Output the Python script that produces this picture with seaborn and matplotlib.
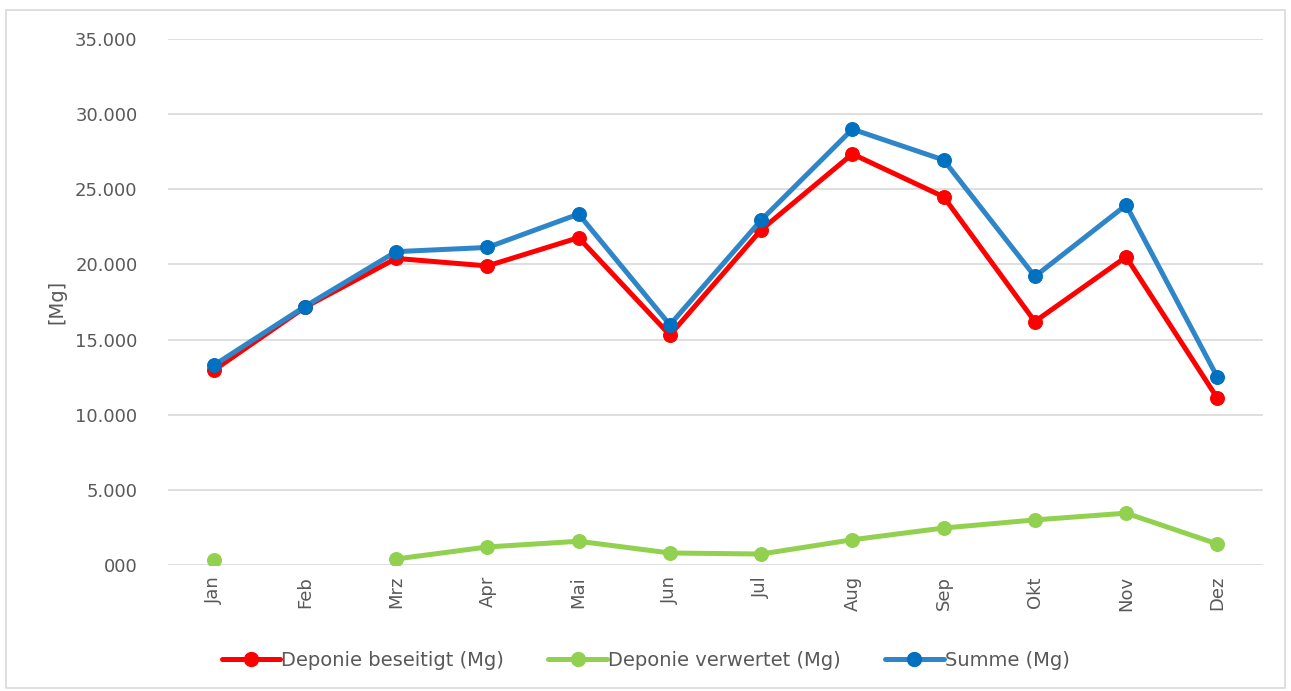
import matplotlib as mpl
import matplotlib.pyplot as plt
import numpy as np
import pandas as pd
import seaborn as sns
from matplotlib.lines import Line2D
from matplotlib.patches import Rectangle
from matplotlib.ticker import FuncFormatter

mpl.use('Agg')

# data (Mg)
months = ['Jan', 'Feb', 'Mrz', 'Apr', 'Mai', 'Jun', 'Jul', 'Aug', 'Sep', 'Okt', 'Nov', 'Dez']
beseitigt = [12950, 17150, 20400, 19900, 21780, 15300, 22300, 27350, 24500, 16200, 20500, 11100]
verwertet = [330, np.nan, 400, 1200, 1580, 800, 730, 1680, 2460, 3000, 3450, 1400]
summe = [13280, 17200, 20850, 21130, 23350, 15980, 22950, 29000, 26950, 19200, 23950, 12500]

labels = ['Deponie beseitigt (Mg)', 'Deponie verwertet (Mg)', 'Summe (Mg)']
colors = ['#FF0000', '#92D050', '#2E86C8']
marker_colors = ['#FF0000', '#92D050', '#0070C0']

sns.set_theme(style='white', rc={'axes.edgecolor': 'white'})
plt.rcParams['font.family'] = ['DejaVu Sans']
text_color = '#595959'

fig = plt.figure(figsize=(12.91, 6.91), dpi=100)
ax = fig.add_axes([168 / 1291, 1 - 565 / 691, 1095 / 1291, 526 / 691])

# green series has a gap in Feb -> split into segments so the line breaks
green = pd.DataFrame({'x': np.arange(len(months)), 'y': verwertet})
green['seg'] = green['y'].isna().cumsum()
green = green.dropna()

for series, col, mcol, z in [(beseitigt, colors[0], marker_colors[0], 3),
                             (summe, colors[2], marker_colors[2], 4)]:
    sns.lineplot(x=np.arange(len(months)), y=series, ax=ax, color=col, linewidth=3.6,
                 marker='o', markersize=10, markerfacecolor=mcol, markeredgecolor=mcol,
                 zorder=z)
sns.lineplot(data=green, x='x', y='y', units='seg', estimator=None, ax=ax,
             color=colors[1], linewidth=3.6, marker='o', markersize=10,
             markerfacecolor=marker_colors[1], markeredgecolor=marker_colors[1], zorder=2)

ax.set_xlim(-0.5, len(months) - 0.5)
ax.set_ylim(0, 35000)
ax.set_yticks(np.arange(0, 35001, 5000))
ax.yaxis.set_major_formatter(FuncFormatter(
    lambda v, p: '000' if v == 0 else '{:,.0f}'.format(v).replace(',', '.')))
ax.set_xticks(np.arange(len(months)))
ax.set_xticklabels(months, rotation=90)
ax.tick_params(axis='both', colors=text_color, labelsize=13, length=0)
ax.tick_params(axis='y', pad=22)
ax.tick_params(axis='x', pad=8)
ax.grid(axis='y', color='#D9D9D9', linewidth=1.2)
ax.set_axisbelow(True)
for s in ax.spines.values():
    s.set_visible(False)
ax.set_xlabel('')
ax.set_ylabel('[Mg]', color=text_color, fontsize=14, labelpad=6)

handles = [Line2D([], [], color=c, linewidth=3.6, marker='o', markersize=10,
                  markerfacecolor=m, markeredgecolor=m)
           for c, m in zip(colors, marker_colors)]
fig.legend(handles, labels, loc='center', bbox_to_anchor=(0.5, 1 - 660 / 691), ncol=3,
           frameon=False, fontsize=14, labelcolor=text_color, handlelength=3.0,
           handletextpad=0.05, columnspacing=2.3)

# outer frame like the chart area border
fig.patches.append(Rectangle((6 / 1291, 3 / 691), 1279 / 1291, 678 / 691,
                             transform=fig.transFigure, fill=False,
                             edgecolor='#D9D9D9', linewidth=1.2))

fig.savefig('out.png', dpi=100)
plt.close()
